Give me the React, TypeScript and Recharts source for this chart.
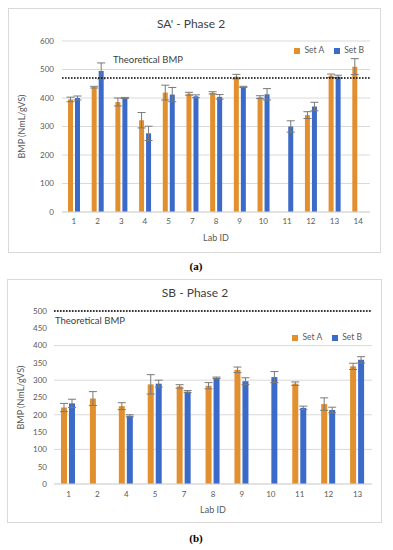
import React from 'react';
import { BarChart, Bar, XAxis, YAxis, CartesianGrid, Legend, ReferenceLine, ErrorBar } from 'recharts';

// panel (a) SA' - Phase 2
const labsA = ['1', '2', '3', '4', '5', '7', '8', '9', '10', '11', '12', '13', '14'];
const saSetA = [395, 438, 386, 322, 419, 415, 418, 475, 403, null, 340, 478, 510];
const saSetB = [400, 495, 400, 276, 412, 406, 404, 439, 413, 300, 370, 475, null];
const saErrA = [8, 3, 14, 27, 26, 5, 4, 8, 5, null, 12, 6, 28];
const saErrB = [7, 28, 2, 25, 25, 5, 8, 2, 20, 20, 15, 5, null];
const saTicks = [0, 100, 200, 300, 400, 500, 600];
const saTheoretical = 470;

// panel (b) SB - Phase 2
const labsB = ['1', '2', '4', '5', '7', '8', '9', '10', '11', '12', '13'];
const sbSetA = [221, 247, 225, 288, 282, 284, 330, null, 290, 231, 340];
const sbSetB = [233, null, 197, 290, 267, 307, 297, 309, 220, 214, 359];
const sbErrA = [12, 20, 10, 28, 5, 9, 8, null, 5, 18, 9];
const sbErrB = [12, null, 3, 10, 3, 2, 10, 16, 5, 8, 9];
const sbTicks = [0, 50, 100, 150, 200, 250, 300, 350, 400, 450, 500];
const sbTheoretical = 500;

const FONT = 'Lato, "Open Sans", sans-serif';
const SET_A = '#E2902F';
const SET_B = '#3C6AC8';
const TEXT = '#595959';

const buildRows = (labs: string[], a: (number | null)[], b: (number | null)[], ea: (number | null)[], eb: (number | null)[]) =>
  labs.map((lab, i) => ({ lab, setA: a[i], setB: b[i], errA: ea[i], errB: eb[i] }));

interface PanelProps {
  left: number;
  top: number;
  width: number;
  height: number;
  title: string;
  titleX: number;
  titleY: number;
  data: any[];
  ticks: number[];
  theoretical: number;
  margin: { top: number; right: number; bottom: number; left: number };
  yWidth: number;
  xHeight: number;
  yTickMargin: number;
  xTickMargin: number;
  xLabelOffset: number;
  yLabelOffset: number;
  barSize: number;
  legendTop: number;
  legendRight: number;
  theoDx: number;
  theoDy: number;
}

function Panel(p: PanelProps) {
  return (
    <div style={{ position: 'absolute', left: p.left, top: p.top, width: p.width, height: p.height }}>
      <div
        style={{
          position: 'absolute', left: 0, top: 0, width: p.width, height: p.height,
          border: '1px solid #D9D9D9', boxSizing: 'border-box',
        }}
      />
      <div
        style={{
          position: 'absolute', left: p.titleX - 100, top: p.titleY - 8, width: 200, textAlign: 'center',
          fontFamily: FONT, fontSize: 12, color: '#404040', lineHeight: '16px',
        }}
      >
        {p.title}
      </div>
      <div style={{ position: 'absolute', left: 0, top: 0 }}>
        <BarChart
          width={p.width}
          height={p.height}
          data={p.data}
          margin={p.margin}
          barSize={p.barSize}
          barGap={2}
        >
          <CartesianGrid vertical={false} stroke="#D9D9D9" />
          <XAxis
            dataKey="lab"
            height={p.xHeight}
            tickSize={0}
            tickMargin={p.xTickMargin}
            axisLine={{ stroke: '#D9D9D9' }}
            tick={{ fontSize: 8, fill: TEXT, fontFamily: FONT }}
            interval={0}
            label={{ value: 'Lab ID', position: 'insideBottom', offset: p.xLabelOffset, fontSize: 9, fill: TEXT, fontFamily: FONT }}
          />
          <YAxis
            width={p.yWidth}
            domain={[p.ticks[0], p.ticks[p.ticks.length - 1]]}
            ticks={p.ticks}
            tickSize={0}
            tickMargin={p.yTickMargin}
            axisLine={false}
            tick={{ fontSize: 8, fill: TEXT, fontFamily: FONT }}
            label={{
              value: 'BMP (NmL/gVS)', angle: -90, position: 'insideLeft', offset: p.yLabelOffset,
              fontSize: 9, fill: TEXT, fontFamily: FONT, style: { textAnchor: 'middle' },
            }}
          />
          <Legend
            verticalAlign="middle"
            align="center"
            iconType="square"
            iconSize={6}
            wrapperStyle={{ top: p.legendTop, right: p.legendRight, width: 'auto', fontSize: 8.5, fontFamily: FONT, lineHeight: '10px' }}
            formatter={(v: string) => <span style={{ color: TEXT }}>{v}</span>}
          />
          <Bar dataKey="setA" name="Set A" fill={SET_A} isAnimationActive={false}>
            <ErrorBar dataKey="errA" width={4} stroke="#7A7A7A" strokeWidth={1} />
          </Bar>
          <Bar dataKey="setB" name="Set B" fill={SET_B} isAnimationActive={false}>
            <ErrorBar dataKey="errB" width={4} stroke="#7A7A7A" strokeWidth={1} />
          </Bar>
          <ReferenceLine
            y={p.theoretical}
            stroke="#000"
            strokeWidth={1.6}
            strokeDasharray="1.6 1.4"
            label={(lp: any) => (
              <text
                x={lp.viewBox.x + p.theoDx}
                y={lp.viewBox.y + p.theoDy}
                fontSize={9.5}
                fill="#404040"
                fontFamily={FONT}
              >
                Theoretical BMP
              </text>
            )}
          />
        </BarChart>
      </div>
    </div>
  );
}

export default function App() {
  const dataA = buildRows(labsA, saSetA, saSetB, saErrA, saErrB);
  const dataB = buildRows(labsB, sbSetA, sbSetB, sbErrA, sbErrB);
  const caption: React.CSSProperties = {
    position: 'absolute', width: 40, textAlign: 'center', fontFamily: '"Liberation Serif", serif',
    fontWeight: 'bold', fontSize: 11, color: '#000', lineHeight: '14px',
  };
  return (
    <div style={{ position: 'absolute', left: 0, top: 0, width: 393, height: 550, background: '#fff' }}>
      <Panel
        left={8}
        top={8}
        width={373}
        height={245}
        title="SA' - Phase 2"
        titleX={183}
        titleY={16}
        data={dataA}
        ticks={saTicks}
        theoretical={saTheoretical}
        margin={{ top: 33, right: 11, bottom: 0, left: 10 }}
        yWidth={44}
        xHeight={41}
        yTickMargin={8}
        xTickMargin={6}
        xLabelOffset={12}
        yLabelOffset={4}
        barSize={5}
        legendTop={37}
        legendRight={7}
        theoDx={51}
        theoDy={-15}
      />
      <div style={{ ...caption, left: 176, top: 259 }}>(a)</div>
      <Panel
        left={7}
        top={279}
        width={375}
        height={244}
        title="SB - Phase 2"
        titleX={188}
        titleY={14}
        data={dataB}
        ticks={sbTicks}
        theoretical={sbTheoretical}
        margin={{ top: 32, right: 10, bottom: 0, left: 8 }}
        yWidth={39}
        xHeight={39}
        yTickMargin={7}
        xTickMargin={7}
        xLabelOffset={10}
        yLabelOffset={6}
        barSize={6}
        legendTop={53}
        legendRight={10}
        theoDx={1}
        theoDy={13}
      />
      <div style={{ ...caption, left: 176, top: 531 }}>(b)</div>
    </div>
  );
}
